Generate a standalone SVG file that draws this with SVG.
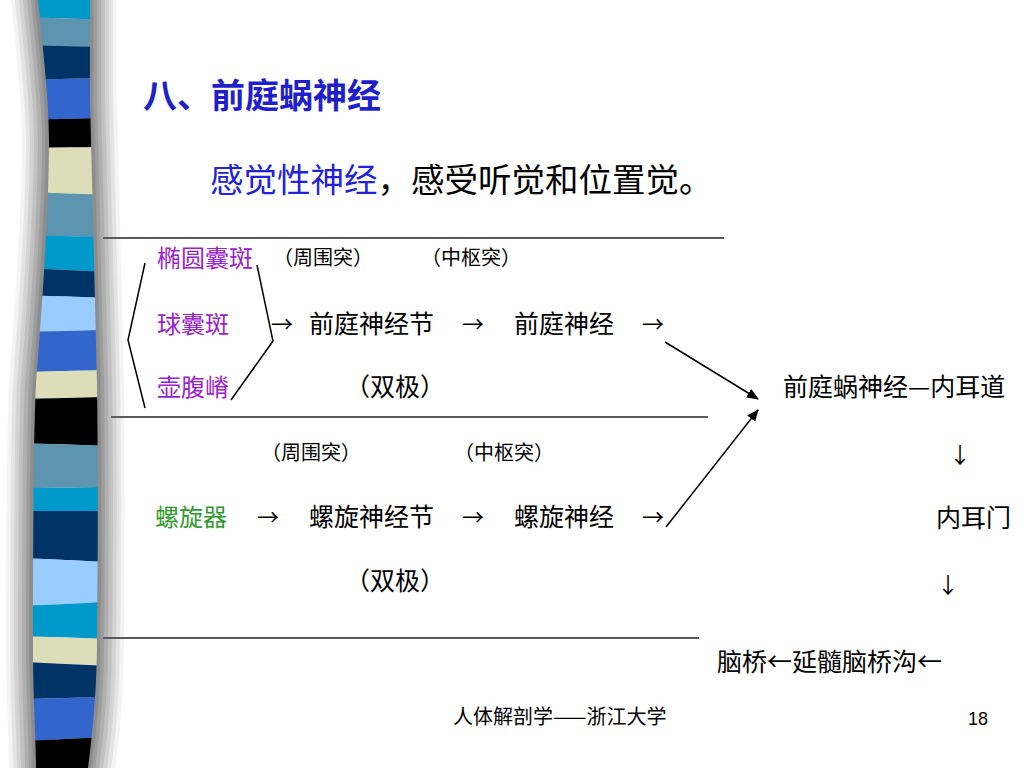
<svg xmlns="http://www.w3.org/2000/svg" width="1024" height="768" viewBox="0 0 1024 768">
<style>
text{font-family:"Noto Sans CJK SC","Noto Sans",sans-serif;}
.t{font-size:25px;fill:#000;}
.p{font-size:20px;fill:#000;}
.b{font-size:25px;fill:#000;}
.ar{font-size:22px;fill:#000;}
.pur{font-size:24px;fill:#9A22CC;}
.grn{font-size:24px;fill:#2E9A2E;}
.hl{stroke:#5a5a5a;stroke-width:2;fill:none;}
.cn{stroke:#000;stroke-width:1.5;fill:none;}
.sh{fill:none;stroke:#707070;stroke-linejoin:round;}
</style>
<defs>
<marker id="ah" viewBox="0 0 12 10" refX="11" refY="5" markerWidth="12" markerHeight="10" markerUnits="userSpaceOnUse" orient="auto">
<path d="M0,0 L12,5 L0,10 Z" fill="#000"/>
</marker>
<path id="barshape" d="M38,-30 L38,0 C42,40 49,100 49,140 C49,220 40,330 36,384 C33,440 33,600 33,650 C33,700 36,740 36,768 L36,800 L88,800 L88,768 C92,740 97,690 97,640 C98,560 98,450 97,384 C95,300 92,180 90,100 L90,-30 Z"/>
<clipPath id="barclip">
<use href="#barshape"/>
</clipPath>
</defs>
<rect x="0" y="0" width="1024" height="768" fill="#fff"/>
<g id="sidebar">
<use href="#barshape" class="sh" stroke-width="54" opacity="0.08"/>
<use href="#barshape" class="sh" stroke-width="46" opacity="0.12"/>
<use href="#barshape" class="sh" stroke-width="38" opacity="0.15"/>
<use href="#barshape" class="sh" stroke-width="30" opacity="0.18"/>
<use href="#barshape" class="sh" stroke-width="22" opacity="0.22"/>
<use href="#barshape" class="sh" stroke-width="14" opacity="0.28"/>
<use href="#barshape" class="sh" stroke-width="7" opacity="0.35"/>
<g clip-path="url(#barclip)">
<polygon points="20,-5 110,-5 110,20 20,17" fill="#0099CC"/>
<polygon points="20,17 110,20 110,47 20,45" fill="#5D94AF"/>
<polygon points="20,45 110,47 110,78 20,80" fill="#003366"/>
<polygon points="20,80 110,78 110,118 20,120" fill="#3366CC"/>
<polygon points="20,120 110,118 110,147 20,148" fill="#000000"/>
<polygon points="20,148 110,147 110,195 20,192" fill="#DEDDB9"/>
<polygon points="20,192 110,195 110,237 20,235" fill="#5D94AF"/>
<polygon points="20,235 110,237 110,272 20,268" fill="#0099CC"/>
<polygon points="20,268 110,272 110,298 20,295" fill="#003366"/>
<polygon points="20,295 110,298 110,330 20,332" fill="#99CCFF"/>
<polygon points="20,332 110,330 110,370 20,372" fill="#3366CC"/>
<polygon points="20,372 110,370 110,397 20,399" fill="#DEDDB9"/>
<polygon points="20,399 110,397 110,446 20,443" fill="#000000"/>
<polygon points="20,443 110,446 110,487 20,488" fill="#5D94AF"/>
<polygon points="20,488 110,487 110,511 20,511" fill="#0099CC"/>
<polygon points="20,511 110,511 110,562 20,558" fill="#003366"/>
<polygon points="20,558 110,562 110,602 20,606" fill="#99CCFF"/>
<polygon points="20,606 110,602 110,639 20,636" fill="#0099CC"/>
<polygon points="20,636 110,639 110,666 20,662" fill="#DEDDB9"/>
<polygon points="20,662 110,666 110,697 20,699" fill="#003366"/>
<polygon points="20,699 110,697 110,737 20,741" fill="#3366CC"/>
<polygon points="20,741 110,737 110,775 20,775" fill="#000000"/>
</g>
</g>
<g id="title">
<text x="143" y="108" style="font-size:34px;font-weight:bold;fill:#1F1FCC">八、前庭蜗神经</text>
</g>
<g id="subtitle">
<text x="210" y="192" style="font-size:33.5px"><tspan fill="#2222DD">感觉性神经</tspan><tspan fill="#000">，感受听觉和位置觉。</tspan></text>
</g>
<g id="rules">
<line class="hl" x1="103" y1="238" x2="724" y2="238"/>
<line class="hl" x1="111" y1="417" x2="708" y2="417"/>
<line class="hl" x1="103" y1="638" x2="699" y2="638"/>
</g>
<g id="node-tuoyuannangban"><text class="pur" x="157" y="267">椭圆囊斑</text></g>
<g id="node-qiunangban"><text class="pur" x="157" y="333">球囊斑</text></g>
<g id="node-hufuji"><text class="pur" x="157" y="396">壶腹嵴</text></g>
<g id="label-v-peripheral"><text class="p" x="273" y="265">（周围突）</text></g>
<g id="label-v-central"><text class="p" x="421" y="265">（中枢突）</text></g>
<g id="node-vestibular-ganglion"><text class="t" x="309" y="333">前庭神经节</text></g>
<g id="node-vestibular-nerve"><text class="t" x="514" y="333">前庭神经</text></g>
<g id="label-v-bipolar"><text class="b" x="345" y="396">（双极）</text></g>
<g id="label-c-peripheral"><text class="p" x="261" y="460">（周围突）</text></g>
<g id="label-c-central"><text class="p" x="454" y="460">（中枢突）</text></g>
<g id="node-spiral-organ"><text class="grn" x="155" y="526">螺旋器</text></g>
<g id="node-spiral-ganglion"><text class="t" x="309" y="526">螺旋神经节</text></g>
<g id="node-cochlear-nerve"><text class="t" x="514" y="526">螺旋神经</text></g>
<g id="label-c-bipolar"><text class="b" x="345" y="590">（双极）</text></g>
<g id="node-vestibulocochlear"><text class="t" x="783" y="396">前庭蜗神经—内耳道</text></g>
<g id="node-internal-acoustic-pore"><text class="t" x="936" y="527">内耳门</text></g>
<g id="node-pons"><text class="t" x="717" y="671">脑桥←延髓脑桥沟←</text></g>
<g id="connectors">
<polyline class="cn" points="145,263 128,340 145,408"/>
<polyline class="cn" points="257,265 273,341 231,400"/>
<line class="cn" x1="665" y1="342" x2="758" y2="399" marker-end="url(#ah)"/>
<line class="cn" x1="666" y1="527" x2="758" y2="410" marker-end="url(#ah)"/>
<text class="ar" x="271" y="332">→</text>
<text class="ar" x="462" y="332">→</text>
<text class="ar" x="642" y="332">→</text>
<text class="ar" x="257" y="525">→</text>
<text class="ar" x="462" y="525">→</text>
<text class="ar" x="642" y="525">→</text>
<text class="ar" x="960" y="463" text-anchor="middle">↓</text>
<text class="ar" x="948" y="593" text-anchor="middle">↓</text>
</g>
<g id="footer">
<text x="453" y="724" style="font-size:20px;fill:#000">人体解剖学——浙江大学</text>
<text x="968" y="725" style="font-family:'Liberation Sans',Arial,sans-serif;font-size:18px;fill:#000">18</text>
</g>
</svg>
